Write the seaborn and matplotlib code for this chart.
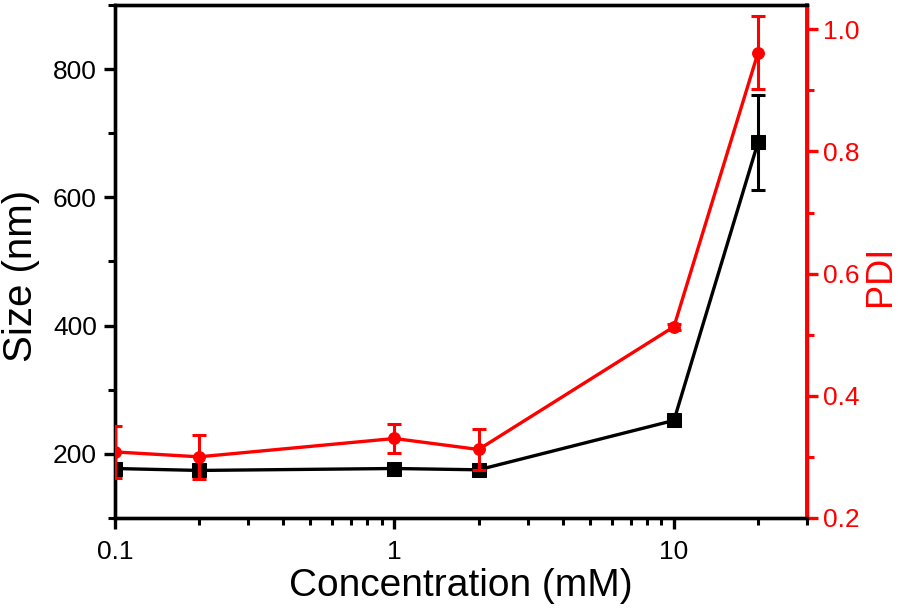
import numpy as np
import pandas as pd
import seaborn as sns
import matplotlib.pyplot as plt

# data
conc = [0.1, 0.2, 1, 2, 10, 20]
size_nm = [177, 174, 177, 175, 252, 686]
size_err = [5, 5, 5, 5, 6, 74]
pdi = [0.308, 0.300, 0.330, 0.312, 0.513, 0.962]
pdi_err = [0.043, 0.036, 0.024, 0.034, 0.005, 0.06]

df = pd.DataFrame({'conc': conc, 'size': size_nm, 'size_err': size_err,
                   'pdi': pdi, 'pdi_err': pdi_err})

sns.set_style('ticks')
plt.rcParams['font.family'] = ['Liberation Sans', 'DejaVu Sans']
plt.rcParams['axes.linewidth'] = 2.4
for key in ['text.color', 'axes.labelcolor', 'xtick.color', 'ytick.color',
            'axes.edgecolor']:
    plt.rcParams[key] = 'black'

fig, ax = plt.subplots(figsize=(8.98, 6.10), dpi=100)
fig.subplots_adjust(left=0.128, right=0.899, top=0.992, bottom=0.151)

# Size (left axis)
ax.errorbar(df['conc'], df['size'], yerr=df['size_err'], fmt='none',
            ecolor='black', elinewidth=2.2, capsize=5, capthick=2.2, zorder=3)
sns.lineplot(data=df, x='conc', y='size', ax=ax, color='black', lw=2.4,
             marker='s', markersize=9.5, markeredgecolor='black', zorder=4)
ax.set_xscale('log')
ax.set_xlim(0.1, 30)
ax.set_ylim(100, 900)
ax.set_yticks([200, 400, 600, 800])
ax.set_yticks([100, 300, 500, 700, 900], minor=True)
ax.set_xticks([0.1, 1, 10])
ax.set_xticklabels(['0.1', '1', '10'])
ax.set_xlabel('Concentration (mM)', fontsize=28, labelpad=3)
ax.set_ylabel('Size (nm)', fontsize=29)
ax.yaxis.set_label_coords(-0.108, 0.472)
ax.tick_params(axis='both', which='major', labelsize=19, length=8, width=2.4)
ax.tick_params(axis='x', which='major', pad=8)
ax.tick_params(axis='y', which='major', pad=5)
ax.tick_params(axis='both', which='minor', length=5, width=2.2)

# PDI (right axis)
ax2 = ax.twinx()
ax2.errorbar(df['conc'], df['pdi'], yerr=df['pdi_err'], fmt='none',
             ecolor='red', elinewidth=2.2, capsize=5, capthick=2.2, zorder=3)
sns.lineplot(data=df, x='conc', y='pdi', ax=ax2, color='red', lw=2.4,
             marker='o', markersize=8.5, markeredgecolor='red', zorder=4)
ax2.set_ylim(0.2, 1.04)
ax2.set_yticks([0.2, 0.4, 0.6, 0.8, 1.0])
ax2.set_yticks([0.3, 0.5, 0.7, 0.9], minor=True)
ax2.set_ylabel('PDI', fontsize=26, color='red')
ax2.yaxis.set_label_coords(1.08, 0.472)
ax2.tick_params(axis='y', which='major', labelsize=19, length=8, width=2.4,
                colors='red')
ax2.tick_params(axis='y', which='minor', length=5, width=2.2, colors='red')
ax2.spines['right'].set_color('red')
ax2.spines['right'].set_linewidth(2.8)
ax2.set_xlim(0.1, 30)

plt.savefig('out.png', dpi=100)
